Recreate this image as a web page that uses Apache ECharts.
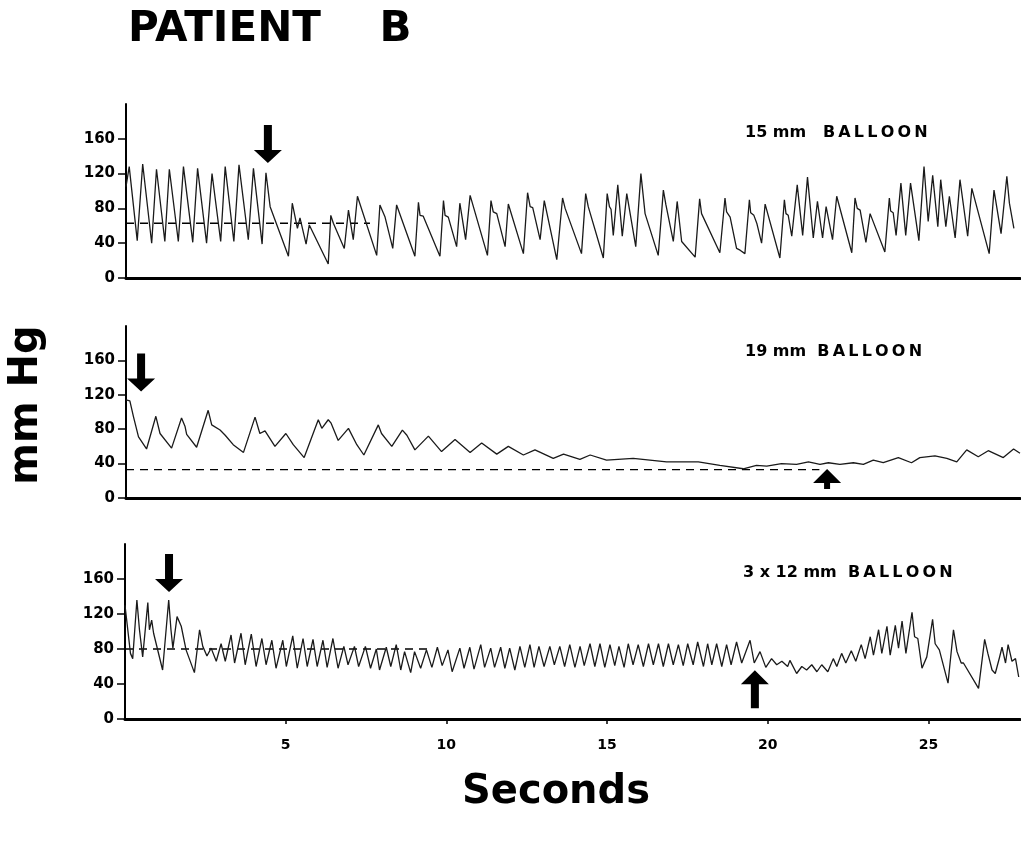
<!DOCTYPE html>
<html>
<head>
<meta charset="utf-8">
<title>Patient B</title>
<script src="https://cdn.jsdelivr.net/npm/echarts@6.0.0/dist/echarts.min.js"></script>
<style>
  html, body { margin: 0; padding: 0; background: #fff; }
  #chart { width: 1021px; height: 847px; }
</style>
</head>
<body>
<div id="chart"></div>
<script>
  // tick labels
  const yTicks = [0, 40, 80, 120, 160]
  const xTicks = [5, 10, 15, 20, 25]
  const panelNames = ['15 mm   B\u2009A\u2009L\u2009L\u2009O\u2009O\u2009N', '19 mm  B\u2009A\u2009L\u2009L\u2009O\u2009O\u2009N', '3 x 12 mm  B\u2009A\u2009L\u2009L\u2009O\u2009O\u2009N']

  // 15 mm balloon (seconds / mm Hg)
  const timeA = [0.00, 0.10, 0.35, 0.52, 0.80, 0.95, 1.21, 1.35, 1.63, 1.79, 2.08, 2.23, 2.51, 2.68, 2.95, 3.09, 3.36, 3.52, 3.81, 3.97,
    4.24, 4.36, 4.49, 5.06, 5.18, 5.34, 5.42, 5.61, 5.71, 6.30, 6.38, 6.46, 6.80, 6.93, 7.08, 7.21, 7.81, 7.91, 8.07, 8.31,
    8.43, 9.00, 9.11, 9.16, 9.26, 9.78, 9.89, 9.94, 10.04, 10.30, 10.40, 10.58, 10.72, 11.26, 11.37, 11.44, 11.55, 11.81, 11.91, 12.38,
    12.51, 12.59, 12.67, 12.90, 13.03, 13.42, 13.60, 13.68, 13.73, 14.19, 14.32, 14.40, 14.87, 14.99, 15.06, 15.11, 15.18, 15.32, 15.46, 15.60,
    15.88, 16.04, 16.17, 16.58, 16.74, 16.82, 17.05, 17.17, 17.31, 17.73, 17.87, 17.93, 18.50, 18.66, 18.71, 18.82, 19.02, 19.13, 19.28, 19.42,
    19.46, 19.56, 19.65, 19.80, 19.91, 20.37, 20.51, 20.56, 20.63, 20.74, 20.91, 21.08, 21.23, 21.41, 21.54, 21.70, 21.81, 22.01, 22.14, 22.61,
    22.71, 22.78, 22.87, 23.05, 23.18, 23.64, 23.78, 23.82, 23.90, 23.99, 24.14, 24.29, 24.44, 24.70, 24.86, 24.99, 25.13, 25.29, 25.38, 25.54,
    25.65, 25.83, 25.98, 26.22, 26.35, 26.89, 27.04, 27.26, 27.44, 27.52, 27.66]
  const pressureA = [105, 128, 43, 131, 40, 125, 42, 125, 42, 128, 41, 126, 40, 120, 42, 128, 42, 130, 44, 126,
    39, 121, 82, 25, 86, 57, 69, 39, 61, 16, 72, 63, 34, 78, 44, 94, 26, 84, 70, 34,
    84, 25, 87, 72, 71, 25, 89, 72, 70, 36, 86, 44, 95, 26, 89, 76, 74, 36, 85, 28,
    98, 82, 81, 44, 89, 21, 92, 80, 80, 28, 97, 82, 23, 97, 82, 79, 49, 107, 48, 97,
    36, 120, 74, 26, 101, 84, 42, 88, 42, 24, 91, 74, 29, 92, 76, 70, 34, 32, 28, 90,
    75, 72, 63, 40, 85, 23, 90, 74, 72, 48, 107, 49, 116, 46, 88, 46, 82, 44, 94, 29,
    92, 80, 78, 41, 74, 30, 92, 77, 75, 49, 109, 49, 109, 43, 128, 65, 118, 59, 113, 59,
    94, 46, 113, 48, 103, 28, 101, 51, 117, 86, 57]

  // 19 mm balloon
  const timeB = [0.00, 0.12, 0.23, 0.39, 0.64, 0.93, 1.06, 1.42, 1.73, 1.84, 1.89, 2.20, 2.56, 2.67, 2.93, 3.09, 3.34, 3.66, 4.02, 4.17,
    4.33, 4.64, 4.98, 5.21, 5.55, 5.99, 6.10, 6.30, 6.39, 6.61, 6.93, 7.19, 7.41, 7.86, 7.96, 8.28, 8.61, 8.75, 9.00, 9.42,
    9.83, 10.25, 10.72, 11.08, 11.55, 11.91, 12.38, 12.74, 13.31, 13.63, 14.14, 14.46, 14.97, 15.80, 16.84, 17.83, 18.50, 19.23, 19.64, 19.96,
    20.42, 20.89, 21.26, 21.62, 21.88, 22.24, 22.66, 22.97, 23.28, 23.59, 24.06, 24.47, 24.73, 25.20, 25.57, 25.88, 26.19, 26.55, 26.86, 27.33,
    27.65, 27.85]
  const pressureB = [114, 113, 95, 71, 57, 95, 75, 58, 93, 83, 74, 59, 102, 85, 79, 73, 62, 53, 94, 75,
    78, 60, 75, 62, 47, 91, 81, 91, 87, 67, 81, 62, 50, 85, 75, 60, 79, 73, 56, 72,
    54, 68, 53, 64, 51, 60, 50, 56, 46, 51, 45, 50, 44, 46, 42, 42, 38, 34, 38, 37,
    40, 39, 42, 39, 41, 39, 41, 39, 44, 41, 47, 41, 47, 49, 46, 42, 56, 48, 55, 47,
    57, 52]

  // 3 x 12 mm balloon
  const timeC = [0.00, 0.06, 0.17, 0.24, 0.37, 0.45, 0.55, 0.71, 0.76, 0.83, 0.89, 1.17, 1.36, 1.43, 1.49, 1.62, 1.75, 1.90, 2.16, 2.32,
    2.42, 2.55, 2.68, 2.84, 2.99, 3.12, 3.30, 3.41, 3.61, 3.74, 3.93, 4.08, 4.26, 4.39, 4.57, 4.70, 4.91, 5.02, 5.22, 5.36,
    5.54, 5.67, 5.85, 5.98, 6.16, 6.29, 6.47, 6.63, 6.81, 6.94, 7.14, 7.27, 7.48, 7.64, 7.82, 7.92, 8.13, 8.27, 8.44, 8.58,
    8.70, 8.89, 9.01, 9.20, 9.38, 9.55, 9.72, 9.87, 10.05, 10.18, 10.42, 10.55, 10.73, 10.86, 11.07, 11.19, 11.38, 11.50, 11.69, 11.82,
    11.97, 12.13, 12.29, 12.44, 12.60, 12.73, 12.88, 13.04, 13.22, 13.36, 13.53, 13.68, 13.84, 14.00, 14.16, 14.29, 14.47, 14.62, 14.78, 14.93,
    15.09, 15.24, 15.37, 15.53, 15.66, 15.81, 15.97, 16.13, 16.29, 16.44, 16.60, 16.75, 16.91, 17.06, 17.22, 17.37, 17.51, 17.68, 17.82, 18.00,
    18.13, 18.26, 18.41, 18.57, 18.72, 18.86, 19.03, 19.19, 19.45, 19.58, 19.76, 19.94, 20.12, 20.28, 20.44, 20.62, 20.69, 20.90, 21.06, 21.21,
    21.37, 21.53, 21.68, 21.87, 22.04, 22.15, 22.30, 22.43, 22.60, 22.74, 22.91, 23.03, 23.19, 23.29, 23.45, 23.55, 23.71, 23.81, 23.97, 24.07,
    24.18, 24.30, 24.49, 24.57, 24.67, 24.80, 24.95, 25.13, 25.21, 25.34, 25.61, 25.78, 25.89, 26.02, 26.09, 26.56, 26.75, 26.85, 26.98, 27.08,
    27.21, 27.29, 27.40, 27.48, 27.60, 27.71, 27.81]
  const pressureC = [130, 128, 75, 69, 136, 102, 71, 133, 102, 113, 98, 56, 136, 102, 81, 117, 106, 79, 53, 102,
    83, 72, 81, 66, 86, 66, 96, 64, 98, 62, 97, 60, 92, 62, 90, 58, 90, 60, 95, 58,
    92, 60, 91, 60, 90, 59, 92, 58, 83, 62, 83, 60, 83, 58, 80, 56, 82, 60, 85, 56,
    77, 53, 77, 58, 79, 59, 82, 61, 79, 54, 81, 58, 82, 57, 85, 59, 81, 59, 82, 58,
    81, 56, 83, 59, 85, 59, 83, 60, 83, 62, 83, 60, 85, 59, 83, 61, 86, 60, 86, 59,
    85, 61, 83, 59, 86, 62, 85, 60, 86, 62, 86, 60, 86, 62, 85, 61, 86, 62, 88, 60,
    86, 62, 86, 60, 85, 62, 88, 64, 90, 64, 77, 59, 69, 62, 66, 60, 67, 52, 60, 56,
    62, 54, 62, 54, 69, 60, 75, 64, 78, 66, 85, 69, 94, 73, 102, 75, 106, 73, 107, 81,
    112, 75, 122, 94, 92, 58, 71, 114, 86, 79, 41, 102, 77, 64, 64, 35, 91, 75, 56, 52,
    70, 82, 64, 85, 66, 69, 48]

  // baseline (dashed) levels and how far they run
  const dashLevel = [63, 33, 80]
  const dashEnd = [7.6, 21.6, 9.4]

  // arrows: time, mid level, direction
  const arrowTime = [[4.42], [0.47, 21.84], [1.37, 19.6]]
  const arrowLevel = [[154], [146, 22], [167, 34]]
  const arrowDir = [['down'], ['down', 'up'], ['down', 'up']]

  const FONT = '"DejaVu Sans", sans-serif'
  const grids = [
    { left: 126, top: 104, width: 894, height: 174 },
    { left: 126, top: 326, width: 894, height: 172 },
    { left: 125, top: 544, width: 895, height: 175 }
  ]
  const traces = [[timeA, pressureA], [timeB, pressureB], [timeC, pressureC]]

  const arrowPaths = {
    down: 'path://M10,0 L18,0 L18,25 L28,25 L14,38 L0,25 L10,25 Z',
    up: 'path://M14,0 L28,14 L18,14 L18,38 L10,38 L10,14 L0,14 Z',
    upShort: 'path://M14,0 L28,14 L17,14 L17,20 L11,20 L11,14 L0,14 Z'
  }

  const chart = echarts.init(document.getElementById('chart'))

  const xAxes = grids.map((g, i) => ({
    gridIndex: i,
    type: 'value',
    min: 0,
    max: 27.85,
    interval: 5,
    axisLine: { onZero: false, lineStyle: { color: '#000', width: 3 } },
    axisTick: { show: i === 2, length: 5, customValues: xTicks, lineStyle: { color: '#000', width: 1.5 } },
    axisLabel: { show: i === 2, customValues: xTicks, margin: 19, fontFamily: FONT, fontWeight: 'bold', fontSize: 14, color: '#000' },
    splitLine: { show: false }
  }))

  const yAxes = grids.map((g, i) => ({
    gridIndex: i,
    type: 'value',
    min: 0,
    max: 200,
    interval: 40,
    axisLine: { show: true, lineStyle: { color: '#000', width: 2 } },
    axisTick: { show: true, length: 8, customValues: yTicks, lineStyle: { color: '#000', width: 1.5 } },
    axisLabel: { customValues: yTicks, margin: 11, fontFamily: FONT, fontWeight: 'bold', fontSize: 15, color: '#000' },
    splitLine: { show: false }
  }))

  const series = []
  traces.forEach(([t, p], i) => {
    const marks = arrowTime[i].map((at, k) => {
      const dir = arrowDir[i][k]
      const short = dir === 'up' && i === 1
      return {
        coord: [at, arrowLevel[i][k]],
        symbol: short ? arrowPaths.upShort : arrowPaths[dir],
        symbolSize: short ? [28, 20] : [28, 38]
      }
    })
    series.push({
      type: 'line',
      xAxisIndex: i,
      yAxisIndex: i,
      data: t.map((x, k) => [x, p[k]]),
      showSymbol: false,
      silent: true,
      lineStyle: { color: '#1a1a1a', width: 1.3 },
      markPoint: {
        silent: true,
        label: { show: false },
        itemStyle: { color: '#000' },
        data: marks
      },
      z: 3
    })
    series.push({
      type: 'line',
      xAxisIndex: i,
      yAxisIndex: i,
      data: [[0, dashLevel[i]], [dashEnd[i], dashLevel[i]]],
      showSymbol: false,
      silent: true,
      lineStyle: { color: '#000', width: 1.4, type: [8, 6] },
      z: 2
    })
  })

  const bold = size => ({ fontFamily: FONT, fontWeight: 'bold', fontSize: size, fill: '#000' })

  const option = {
    backgroundColor: '#fff',
    animation: false,
    grid: grids,
    xAxis: xAxes,
    yAxis: yAxes,
    series: series,
    graphic: [
      { type: 'text', x: 128, y: 30, style: Object.assign({ text: 'PATIENT    B', verticalAlign: 'middle' }, bold(42)) },
      { type: 'text', x: 556, y: 793, style: Object.assign({ text: 'Seconds', align: 'center', verticalAlign: 'middle' }, bold(40)) },
      { type: 'text', x: 27, y: 405, rotation: Math.PI / 2, style: Object.assign({ text: 'mm Hg', align: 'center', verticalAlign: 'middle' }, bold(40)) },
      { type: 'text', x: 745, y: 133, style: Object.assign({ text: panelNames[0], verticalAlign: 'middle' }, bold(16)) },
      { type: 'text', x: 745, y: 352, style: Object.assign({ text: panelNames[1], verticalAlign: 'middle' }, bold(16)) },
      { type: 'text', x: 743, y: 573, style: Object.assign({ text: panelNames[2], verticalAlign: 'middle' }, bold(16)) }
    ]
  }

  chart.setOption(option)
</script>
</body>
</html>
